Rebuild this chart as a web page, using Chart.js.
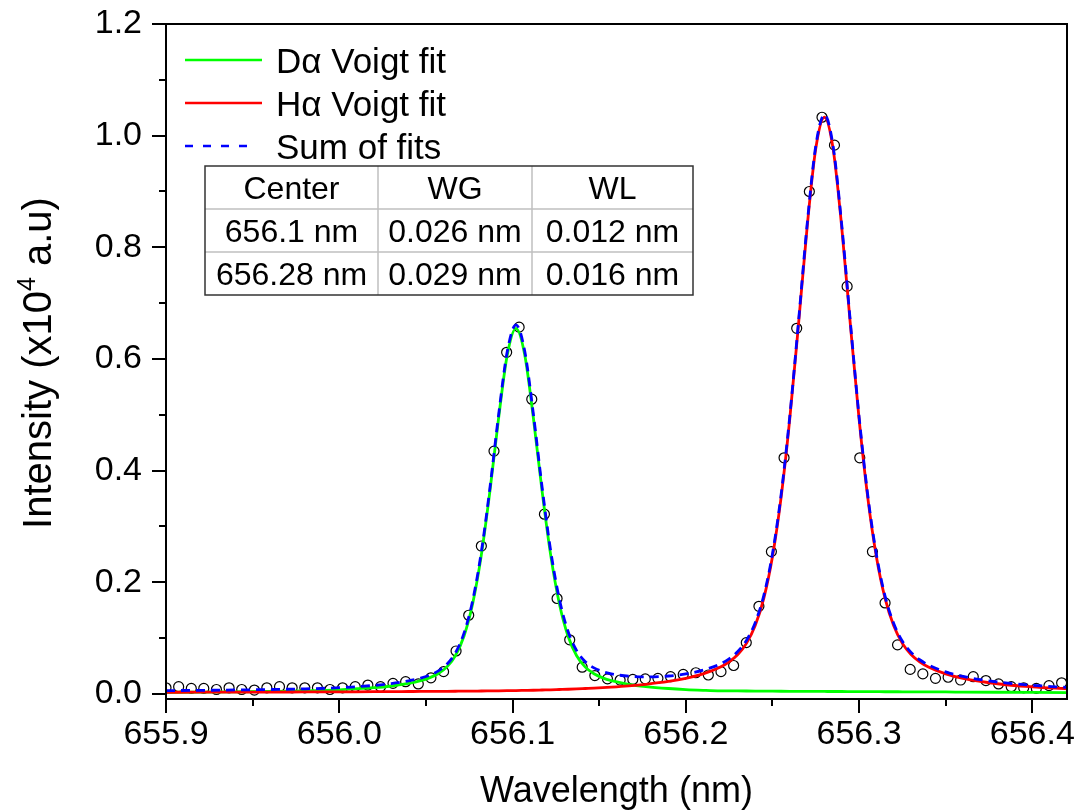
<!DOCTYPE html>
<html>
<head>
<meta charset="utf-8">
<script src="https://cdn.jsdelivr.net/npm/chart.js@4.4.0/dist/chart.umd.min.js"></script>
<style>
html,body{margin:0;padding:0;background:#fff;}
#c{display:block;}
</style>
</head>
<body>
<canvas id="c" width="1085" height="812"></canvas>
<script>
const FONT = '"Liberation Sans", Arial, Helvetica, sans-serif';

// ---- axis ticks ----
const xMajorTicks = [655.9, 656.0, 656.1, 656.2, 656.3, 656.4];
const xMinorTicks = [655.95, 656.05, 656.15, 656.25, 656.35];
const yMajorTicks = [0.0, 0.2, 0.4, 0.6, 0.8, 1.0, 1.2];
const yMinorTicks = [0.1, 0.3, 0.5, 0.7, 0.9, 1.1];

// ---- measured spectrum (circles) ----
const dataX = [655.9000,655.9073,655.9146,655.9218,655.9291,655.9364,655.9437,655.9510,655.9582,655.9655,
  655.9728,655.9801,655.9874,655.9946,656.0019,656.0092,656.0165,656.0238,656.0310,656.0383,
  656.0456,656.0529,656.0602,656.0674,656.0747,656.0820,656.0893,656.0966,656.1038,656.1111,
  656.1184,656.1257,656.1330,656.1402,656.1475,656.1548,656.1621,656.1694,656.1766,656.1839,
  656.1912,656.1985,656.2058,656.2130,656.2203,656.2276,656.2349,656.2422,656.2494,656.2567,
  656.2640,656.2713,656.2786,656.2858,656.2931,656.3004,656.3077,656.3150,656.3222,656.3295,
  656.3368,656.3441,656.3514,656.3586,656.3659,656.3732,656.3805,656.3878,656.3950,656.4023,
  656.4096,656.4169];
const dataY = [0.011,0.013,0.010,0.010,0.008,0.011,0.008,0.007,0.011,0.013,
  0.011,0.011,0.011,0.008,0.011,0.013,0.016,0.013,0.019,0.022,
  0.018,0.029,0.040,0.077,0.141,0.265,0.435,0.612,0.657,0.528,
  0.322,0.171,0.097,0.048,0.033,0.027,0.025,0.026,0.027,0.028,
  0.031,0.035,0.038,0.034,0.040,0.051,0.092,0.157,0.255,0.423,
  0.655,0.900,1.033,0.983,0.730,0.423,0.255,0.163,0.088,0.044,
  0.036,0.028,0.030,0.025,0.031,0.024,0.018,0.013,0.011,0.010,
  0.015,0.020];

// ---- fitted curves ----
const fitX = [655.900,655.920,655.940,655.960,655.980,656.000,656.020,656.030,656.040,656.047,
  656.052,656.057,656.062,656.067,656.072,656.077,656.082,656.087,656.092,656.097,
  656.102,656.107,656.112,656.117,656.122,656.127,656.132,656.137,656.142,656.147,
  656.152,656.157,656.167,656.177,656.190,656.200,656.210,656.220,656.225,656.230,
  656.235,656.240,656.245,656.250,656.255,656.260,656.265,656.270,656.275,656.280,
  656.285,656.290,656.295,656.300,656.305,656.310,656.315,656.320,656.325,656.330,
  656.335,656.340,656.350,656.360,656.380,656.400,656.420];
const dAlphaFit = [0.0030,0.0033,0.0039,0.0046,0.0056,0.0075,0.0112,0.0143,0.0190,0.0239,
  0.0289,0.0362,0.0481,0.0685,0.1039,0.1621,0.2492,0.3647,0.4952,0.6082,
  0.6550,0.6082,0.4952,0.3647,0.2492,0.1621,0.1039,0.0685,0.0481,0.0362,
  0.0289,0.0239,0.0174,0.0133,0.0098,0.0079,0.0066,0.0056,0.0055,0.0054,
  0.0053,0.0052,0.0051,0.0050,0.0049,0.0048,0.0047,0.0046,0.0046,0.0045,
  0.0044,0.0044,0.0043,0.0042,0.0042,0.0041,0.0040,0.0040,0.0039,0.0039,
  0.0038,0.0037,0.0036,0.0034,0.0031,0.0028,0.0025];
const hAlphaFit = [0.0030,0.0032,0.0033,0.0034,0.0036,0.0038,0.0041,0.0042,0.0044,0.0045,
  0.0046,0.0047,0.0048,0.0049,0.0050,0.0052,0.0053,0.0055,0.0057,0.0059,
  0.0061,0.0064,0.0067,0.0071,0.0075,0.0080,0.0085,0.0091,0.0098,0.0105,
  0.0113,0.0122,0.0144,0.0173,0.0224,0.0280,0.0360,0.0482,0.0575,0.0706,
  0.0906,0.1221,0.1712,0.2458,0.3522,0.4926,0.6607,0.8354,0.9768,1.0330,
  0.9768,0.8354,0.6607,0.4926,0.3522,0.2458,0.1712,0.1221,0.0906,0.0706,
  0.0575,0.0482,0.0360,0.0280,0.0183,0.0128,0.0092];
const sumFit = [0.0060,0.0065,0.0072,0.0080,0.0092,0.0113,0.0153,0.0185,0.0234,0.0284,
  0.0335,0.0409,0.0529,0.0734,0.1089,0.1673,0.2545,0.3702,0.5009,0.6141,
  0.6611,0.6146,0.5019,0.3718,0.2567,0.1701,0.1124,0.0776,0.0579,0.0467,
  0.0402,0.0361,0.0318,0.0306,0.0322,0.0359,0.0426,0.0538,0.0630,0.0760,
  0.0959,0.1273,0.1763,0.2508,0.3571,0.4974,0.6654,0.8400,0.9814,1.0375,
  0.9812,0.8398,0.6650,0.4968,0.3564,0.2499,0.1752,0.1261,0.0945,0.0745,
  0.0613,0.0519,0.0396,0.0314,0.0214,0.0156,0.0117];

// ---- texts ----
const legendLabels = ['D\u03B1 Voigt fit', 'H\u03B1 Voigt fit', 'Sum of fits'];
const tableHeader = ['Center', 'WG', 'WL'];
const tableRow1 = ['656.1 nm', '0.026 nm', '0.012 nm'];
const tableRow2 = ['656.28 nm', '0.029 nm', '0.016 nm'];
const xTitle = 'Wavelength (nm)';
const yTitleMain = 'Intensity (x10';
const yTitleSup = '4';
const yTitleEnd = ' a.u)';

const pts = (xs, ys) => xs.map((v, i) => ({x: v, y: ys[i]}));

const decor = {
  id: 'decor',
  afterDraw(chart) {
    const {ctx, chartArea: a, scales: {x, y}} = chart;
    ctx.save();
    // frame
    ctx.strokeStyle = '#000';
    ctx.lineWidth = 2;
    ctx.strokeRect(a.left, a.top, a.right - a.left, a.bottom - a.top);
    // ticks
    ctx.beginPath();
    xMajorTicks.forEach(v => { const p = Math.round(x.getPixelForValue(v)); ctx.moveTo(p, a.bottom); ctx.lineTo(p, a.bottom + 14); });
    xMinorTicks.forEach(v => { const p = Math.round(x.getPixelForValue(v)); ctx.moveTo(p, a.bottom); ctx.lineTo(p, a.bottom + 7); });
    yMajorTicks.forEach(v => { const p = Math.round(y.getPixelForValue(v)); ctx.moveTo(a.left, p); ctx.lineTo(a.left - 14, p); });
    yMinorTicks.forEach(v => { const p = Math.round(y.getPixelForValue(v)); ctx.moveTo(a.left, p); ctx.lineTo(a.left - 7, p); });
    ctx.stroke();

    // legend
    const ds = chart.data.datasets;
    const legendDs = [1, 2, 3];
    const lfs = 35;
    ctx.font = lfs + 'px ' + FONT;
    ctx.fillStyle = '#000';
    ctx.textAlign = 'left';
    ctx.textBaseline = 'alphabetic';
    legendDs.forEach((di, i) => {
      const yy = 60 + i * 43;
      ctx.save();
      ctx.strokeStyle = ds[di].borderColor;
      ctx.lineWidth = 2.5;
      if (ds[di].borderDash) { ctx.setLineDash([8, 10]); }
      ctx.beginPath();
      ctx.moveTo(185, yy);
      ctx.lineTo(ds[di].borderDash ? 248 : 262, yy);
      ctx.stroke();
      ctx.restore();
      ctx.fillText(legendLabels[i], 276, yy + 0.358 * lfs);
    });

    // table
    const cols = [205, 378, 532, 693];
    const rows = [166, 209, 252, 295];
    ctx.strokeStyle = '#c0c0c0';
    ctx.lineWidth = 1.5;
    ctx.beginPath();
    [cols[1], cols[2]].forEach(c => { ctx.moveTo(c, rows[0]); ctx.lineTo(c, rows[3]); });
    [rows[1], rows[2]].forEach(r => { ctx.moveTo(cols[0], r); ctx.lineTo(cols[3], r); });
    ctx.stroke();
    ctx.strokeStyle = '#333';
    ctx.lineWidth = 1.5;
    ctx.strokeRect(cols[0], rows[0], cols[3] - cols[0], rows[3] - rows[0]);
    const tfs = 32;
    ctx.font = tfs + 'px ' + FONT;
    ctx.textAlign = 'center';
    [tableHeader, tableRow1, tableRow2].forEach((row, r) => {
      const cy = (rows[r] + rows[r + 1]) / 2;
      row.forEach((txt, c) => {
        ctx.fillText(txt, (cols[c] + cols[c + 1]) / 2, cy + 0.358 * tfs);
      });
    });

    // y title with superscript
    const yfs = 40, sfs = 25;
    ctx.translate(37, 363);
    ctx.rotate(-Math.PI / 2);
    ctx.textAlign = 'left';
    ctx.font = yfs + 'px ' + FONT;
    const w1 = ctx.measureText(yTitleMain).width;
    const w3 = ctx.measureText(yTitleEnd).width;
    ctx.font = sfs + 'px ' + FONT;
    const w2 = ctx.measureText(yTitleSup).width;
    const total = w1 + w2 + w3;
    let sx = -total / 2;
    const base = 0.358 * yfs;
    ctx.font = yfs + 'px ' + FONT;
    ctx.fillText(yTitleMain, sx, base);
    ctx.font = sfs + 'px ' + FONT;
    ctx.fillText(yTitleSup, sx + w1, base - 0.42 * yfs);
    ctx.font = yfs + 'px ' + FONT;
    ctx.fillText(yTitleEnd, sx + w1 + w2, base);
    ctx.restore();
  }
};

new Chart(document.getElementById('c'), {
  type: 'line',
  data: {
    datasets: [
      {
        label: 'Data',
        data: pts(dataX, dataY),
        showLine: false,
        pointRadius: 5,
        pointBorderWidth: 1.2,
        pointBorderColor: '#000',
        pointBackgroundColor: 'rgba(0,0,0,0)',
        order: 3
      },
      {
        label: legendLabels[0],
        data: pts(fitX, dAlphaFit),
        borderColor: '#00ff00',
        borderWidth: 2.8,
        pointRadius: 0,
        cubicInterpolationMode: 'monotone',
        order: 2
      },
      {
        label: legendLabels[1],
        data: pts(fitX, hAlphaFit),
        borderColor: '#ff0000',
        borderWidth: 2.8,
        pointRadius: 0,
        cubicInterpolationMode: 'monotone',
        order: 1
      },
      {
        label: legendLabels[2],
        data: pts(fitX, sumFit),
        borderColor: '#0000ff',
        borderWidth: 2.8,
        borderDash: [9, 6],
        pointRadius: 0,
        cubicInterpolationMode: 'monotone',
        order: 0
      }
    ]
  },
  options: {
    responsive: false,
    devicePixelRatio: 1,
    animation: false,
    layout: { padding: { left: 0, right: 18, top: 24, bottom: 0 } },
    plugins: { legend: { display: false }, tooltip: { enabled: false } },
    scales: {
      x: {
        type: 'linear',
        position: 'bottom',
        min: 655.9,
        max: 656.42,
        afterBuildTicks: s => { s.ticks = xMajorTicks.map(v => ({value: v})); },
        afterFit: s => { s.height = 113; s.paddingLeft = 0; s.paddingRight = 0; },
        ticks: {
          callback: v => Number(v).toFixed(1),
          font: { family: FONT, size: 34 },
          color: '#000',
          padding: 15,
          maxRotation: 0,
          autoSkip: false
        },
        grid: { display: false, drawTicks: false },
        border: { display: false },
        title: {
          display: true,
          text: xTitle,
          color: '#000',
          font: { family: FONT, size: 36, lineHeight: 1.1 },
          padding: { top: 0, bottom: 0 }
        }
      },
      y: {
        min: -0.009,
        max: 1.2,
        afterBuildTicks: s => { s.ticks = yMajorTicks.map(v => ({value: v})); },
        afterFit: s => { s.width = 166; s.paddingTop = 0; s.paddingBottom = 0; },
        ticks: {
          callback: v => Number(v).toFixed(1),
          font: { family: FONT, size: 34 },
          color: '#000',
          padding: 24,
          autoSkip: false
        },
        grid: { display: false, drawTicks: false },
        border: { display: false },
        title: { display: false }
      }
    }
  },
  plugins: [decor]
});
</script>
</body>
</html>
